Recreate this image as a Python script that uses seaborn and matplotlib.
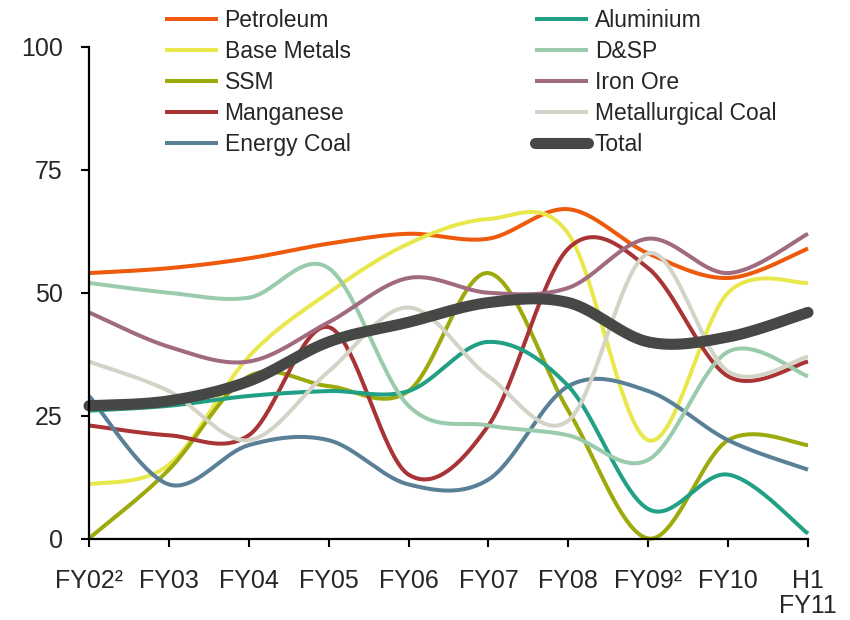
import matplotlib
matplotlib.use("Agg")
import matplotlib.pyplot as plt
import seaborn as sns
import numpy as np
import pandas as pd

sns.set_style("ticks")
plt.rcParams['font.family'] = ['Liberation Sans', 'DejaVu Sans']

# Categories (x axis)
periods = ['FY02²', 'FY03', 'FY04', 'FY05', 'FY06', 'FY07', 'FY08', 'FY09²', 'FY10', 'H1\nFY11']

# Series values
petroleum = [54, 55, 57, 60, 62, 61, 67, 58, 53, 59]
base_metals = [11, 15, 37, 50, 60, 65, 62, 20, 50, 52]
ssm = [0, 14, 33, 31, 30, 54, 26, 0, 20, 19]
manganese = [23, 21, 21, 43, 13, 23, 59, 55, 33, 36]
energy_coal = [29, 11, 19, 20, 11, 12, 31, 30, 20, 14]
aluminium = [26, 27, 29, 30, 30, 40, 31, 6, 13, 1]
dsp = [52, 50, 49, 55, 27, 23, 21, 16, 38, 33]
iron_ore = [46, 39, 36, 44, 53, 50, 51, 61, 54, 62]
met_coal = [36, 30, 20, 34, 47, 33, 24, 58, 34, 37]
total = [27, 28, 32, 40, 44, 48, 48, 40, 41, 46]

series = [
    ('Petroleum', petroleum, '#EE5A0C'),
    ('Base Metals', base_metals, '#E8E84C'),
    ('SSM', ssm, '#9DAA0C'),
    ('Manganese', manganese, '#A83436'),
    ('Energy Coal', energy_coal, '#5A8098'),
    ('Aluminium', aluminium, '#22A085'),
    ('D&SP', dsp, '#9ACBAC'),
    ('Iron Ore', iron_ore, '#A06A80'),
    ('Metallurgical Coal', met_coal, '#D3D3C7'),
    ('Total', total, '#464845'),
]


def smooth(vals, n=40):
    # Excel-style smoothed line: cubic Bezier through each point
    p = np.asarray(vals, dtype=float)
    x = np.arange(len(p), dtype=float)
    xs, ys = [], []
    for i in range(len(p) - 1):
        i0 = max(i - 1, 0)
        i3 = min(i + 2, len(p) - 1)
        c1x = x[i] + (x[i + 1] - x[i0]) / 6
        c1y = p[i] + (p[i + 1] - p[i0]) / 6
        c2x = x[i + 1] - (x[i3] - x[i]) / 6
        c2y = p[i + 1] - (p[i3] - p[i]) / 6
        t = np.linspace(0, 1, n, endpoint=(i == len(p) - 2))
        a, b, c, d = (1 - t) ** 3, 3 * t * (1 - t) ** 2, 3 * t ** 2 * (1 - t), t ** 3
        xs.append(a * x[i] + b * c1x + c * c2x + d * x[i + 1])
        ys.append(a * p[i] + b * c1y + c * c2y + d * p[i + 1])
    return np.concatenate(xs), np.concatenate(ys)


fig = plt.figure(figsize=(8.5, 6.2), dpi=100)
ax = fig.add_axes([89 / 850, 81.5 / 620, 719 / 850, 491.5 / 620])

for name, vals, col in series:
    sx, sy = smooth(vals)
    df = pd.DataFrame({'x': sx, 'y': sy})
    lw = 8 if name == 'Total' else 2.9
    sns.lineplot(data=df, x='x', y='y', ax=ax, color=col, linewidth=lw,
                 label=name, sort=False, estimator=None, clip_on=False,
                 solid_capstyle='round' if name == 'Total' else 'butt')

ax.set_xlim(0, len(periods) - 1)
ax.set_ylim(0, 100)
ax.set_xticks(range(len(periods)))
ax.set_xticklabels(periods, fontsize=18, linespacing=1.05)
ax.set_yticks([0, 25, 50, 75, 100])
ax.set_yticklabels(['0', '25', '50', '75', '100'], fontsize=18)
ax.set_xlabel('')
ax.set_ylabel('')
ax.tick_params(axis='x', length=6, width=1.5, pad=16, color='black')
ax.tick_params(axis='y', length=6, width=1.5, pad=13, color='black')
for s in ['top', 'right']:
    ax.spines[s].set_visible(False)
for s in ['left', 'bottom']:
    ax.spines[s].set_linewidth(1.6)
    ax.spines[s].set_color('black')

ax.legend(ncol=2, loc='upper left', bbox_to_anchor=(165 / 850, 1 - 9 / 620),
          bbox_transform=fig.transFigure, frameon=False, borderpad=0,
          borderaxespad=0, handlelength=2.3, handletextpad=0.3,
          columnspacing=8.05, labelspacing=0.35, fontsize=16.5)

fig.savefig('out.png', dpi=100)
